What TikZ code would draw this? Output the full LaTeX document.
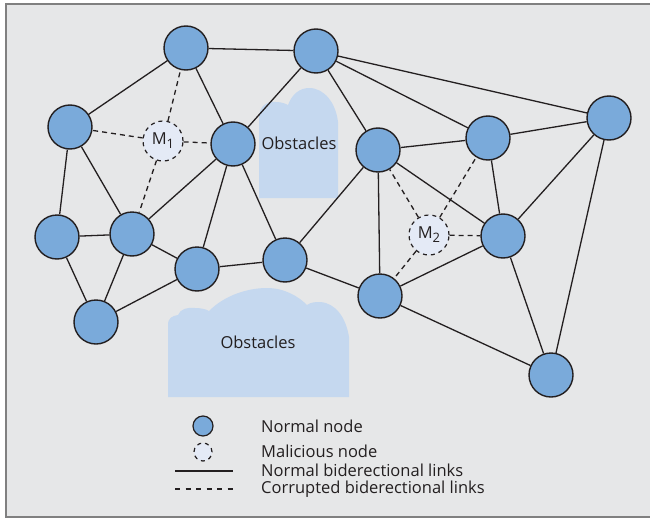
\documentclass[tikz,border=0pt]{standalone}
\usepackage{fontspec}
\setmainfont{Open Sans}
\usepackage{tikz}
\usetikzlibrary{positioning}
\definecolor{bggray}{RGB}{230,231,232}
\definecolor{framegray}{RGB}{128,128,128}
\definecolor{nodeblue}{RGB}{122,170,218}
\definecolor{malblue}{RGB}{228,234,246}
\definecolor{obstblue}{RGB}{197,216,239}
\definecolor{inkdark}{RGB}{35,31,32}
\newcommand{\malname}[1]{M\raisebox{-0.45ex}{\fontsize{13}{13}\selectfont #1}}
\tikzset{
    normal/.style={circle, draw=inkdark, line width=1.4pt, fill=nodeblue,
                   minimum size=44pt, inner sep=0pt},
    malicious/.style={circle, draw=inkdark, line width=1.2pt, dashed,
                      dash pattern=on 4pt off 4pt, fill=malblue,
                      minimum size=40pt, inner sep=0pt, text=inkdark,
                      font=\fontsize{16.5}{19}\selectfont},
    link/.style={draw=inkdark, line width=1.3pt},
    badlink/.style={link, dash pattern=on 5pt off 4pt},
    obstacle/.style={fill=obstblue},
    lbl/.style={font=\fontsize{16.5}{19}\selectfont, text=inkdark, inner sep=0pt},
}

\begin{document}
\begin{tikzpicture}[x=1pt, y=-1pt]
    \useasboundingbox (0,0) rectangle (650,519);
    % background and frame
    \fill[bggray] (6,4) rectangle (651,517);
    \draw[framegray, line width=2pt] (652,4) -- (6,4) -- (6,517) -- (652,517);

    % obstacles
    \fill[obstacle] (259,198) -- (259,118)
        .. controls (259,105) and (268,101) .. (276,102)
        .. controls (282,102) and (286,104) .. (288,105)
        .. controls (292,94) and (300,88) .. (309,88)
        .. controls (325,88) and (336,104) .. (338,122)
        -- (338,198) -- cycle;
    \fill[obstacle] (168,397) -- (168,325)
        .. controls (168,318) and (172,316) .. (178,315)
        .. controls (180,309) and (188,307) .. (195,308)
        .. controls (200,308) and (206,309) .. (209,311)
        .. controls (225,295) and (248,288) .. (267,288)
        .. controls (284,288) and (298,296) .. (307,305)
        .. controls (311,302) and (316,302) .. (320,302)
        .. controls (336,303) and (346,318) .. (349,337)
        -- (349,397) -- cycle;
    \node[lbl] (obst1) at (299,143) {Obstacles};
    \node[lbl] (obst2) at (258,342) {Obstacles};

    % nodes
    \node[normal] (a) at (186,48) {};
    \node[normal] (b) at (316,51) {};
    \node[normal] (c) at (70,127) {};
    \node[normal] (d) at (233,144) {};
    \node[normal] (e) at (57,237) {};
    \node[normal] (f) at (132,234) {};
    \node[normal] (g) at (197,269) {};
    \node[normal] (h) at (285,260) {};
    \node[normal] (i) at (96,322) {};
    \node[normal] (j) at (378,150) {};
    \node[normal] (k) at (488,138) {};
    \node[normal] (l) at (609,118) {};
    \node[normal] (n) at (503,236) {};
    \node[normal] (o) at (380,296) {};
    \node[normal] (p) at (551,375) {};
    \node[malicious] (m1) at (163,141) {\malname{1}};
    \node[malicious] (m2) at (429,235) {\malname{2}};

    % normal links
    \draw[link] (a) -- (b);
    \draw[link] (a) -- (c);
    \draw[link] (a) -- (d);
    \draw[link] (b) -- (d);
    \draw[link] (b) -- (j);
    \draw[link] (b) -- (k);
    \draw[link] (b) -- (l);
    \draw[link] (c) -- (e);
    \draw[link] (c) -- (f);
    \draw[link] (d) -- (f);
    \draw[link] (d) -- (g);
    \draw[link] (d) -- (h);
    \draw[link] (e) -- (f);
    \draw[link] (e) -- (i);
    \draw[link] (f) -- (i);
    \draw[link] (f) -- (g);
    \draw[link] (g) -- (i);
    \draw[link] (g) -- (h);
    \draw[link] (h) -- (j);
    \draw[link] (h) -- (o);
    \draw[link] (j) -- (k);
    \draw[link] (j) -- (n);
    \draw[link] (j) -- (o);
    \draw[link] (k) -- (l);
    \draw[link] (k) -- (n);
    \draw[link] (l) -- (n);
    \draw[link] (l) -- (p);
    \draw[link] (n) -- (o);
    \draw[link] (n) -- (p);
    \draw[link] (o) -- (p);

    % corrupted links
    \draw[badlink] (m1) -- (a);
    \draw[badlink] (m1) -- (c);
    \draw[badlink] (m1) -- (d);
    \draw[badlink] (m1) -- (f);
    \draw[badlink] (m2) -- (j);
    \draw[badlink] (m2) -- (k);
    \draw[badlink] (m2) -- (n);
    \draw[badlink] (m2) -- (o);

    % legend
    \node[normal, minimum size=20pt, line width=1.2pt] (keynormal) at (203,426) {};
    \node[malicious, minimum size=18pt] (keymal) at (203,452) {};
    \coordinate (solidl) at (175,471);
    \coordinate (solidr) at (233,471);
    \coordinate (dashl) at (175,489);
    \coordinate (dashr) at (233,489);
    \draw[link] (solidl) -- (solidr);
    \draw[link, line width=1.1pt, dash pattern=on 5pt off 5.5pt] (dashl) -- (dashr);
    \node[lbl, anchor=west] (txtnormal) at (261,426) {Normal node};
    \node[lbl, anchor=west] (txtmal) at (261,451) {Malicious node};
    \node[lbl, anchor=west] (txtlink) at (261,470) {Normal biderectional links};
    \node[lbl, anchor=west] (txtbad) at (261,489) {Corrupted biderectional links};
\end{tikzpicture}
\end{document}
